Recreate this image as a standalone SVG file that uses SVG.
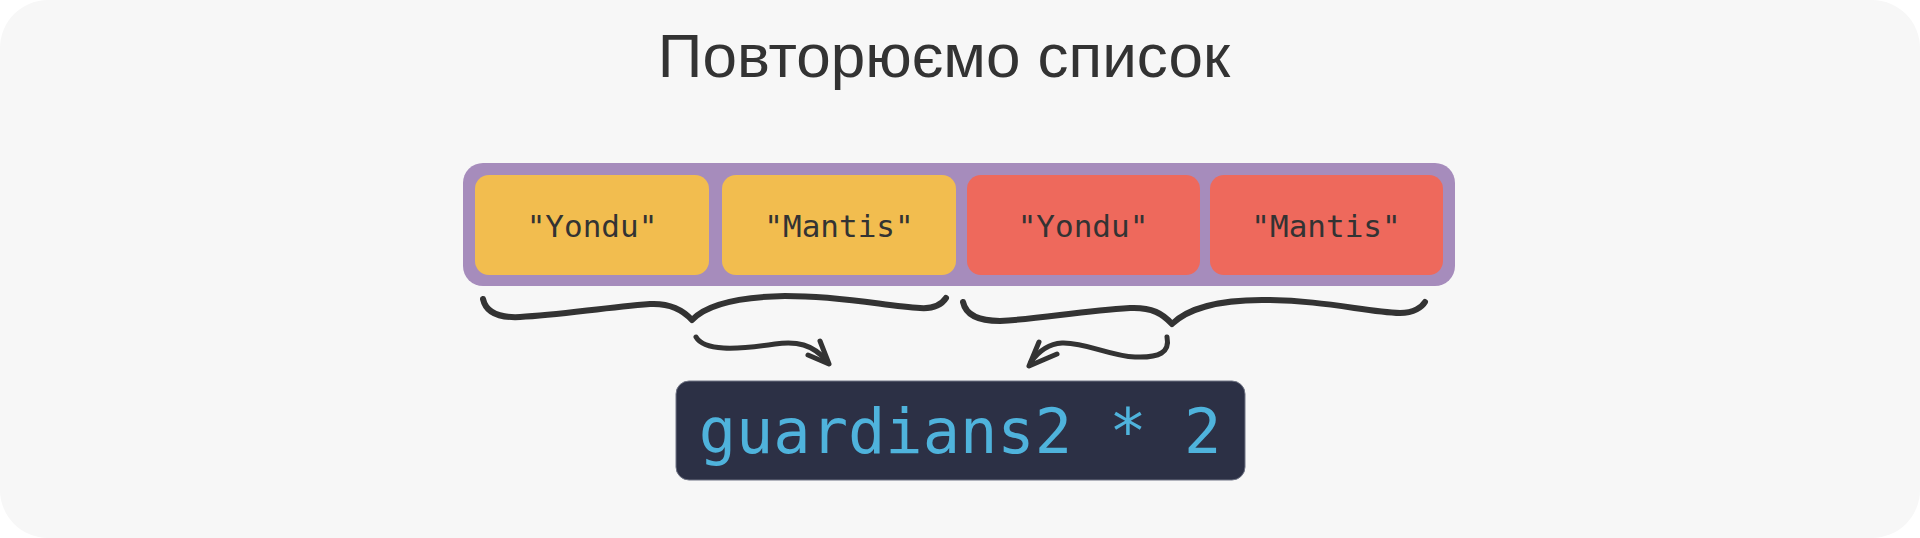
<svg xmlns="http://www.w3.org/2000/svg" width="1920" height="538" viewBox="0 0 1920 538">
  <style>
    .title { font-family: "Liberation Sans", Arial, sans-serif; font-size: 62px; fill: #333333; }
    .item { font-family: "DejaVu Sans Mono", "Liberation Mono", monospace; font-size: 31px; fill: #333333; }
    .code { font-family: "DejaVu Sans Mono", "Liberation Mono", monospace; font-size: 62px; fill: #4fb3dc; }
    .yellow { fill: #f2bd4f; }
    .red { fill: #ee695c; }
    .brace { fill: none; stroke: #333333; stroke-width: 6; stroke-linecap: round; stroke-linejoin: round; }
    .arrow { fill: none; stroke: #333333; stroke-width: 5; stroke-linecap: round; stroke-linejoin: round; }
  </style>
  <rect x="0" y="0" width="1920" height="538" rx="48" fill="#f7f7f7"/>

  <g id="title">
    <text class="title" x="944" y="77" text-anchor="middle">Повторюємо список</text>
  </g>

  <g id="list">
    <rect x="463" y="163" width="992" height="123" rx="20" fill="#a68cbc"/>
  </g>

  <g id="item1">
    <rect class="yellow" x="475" y="175" width="234" height="100" rx="14"/>
    <text class="item" x="592" y="237" text-anchor="middle">"Yondu"</text>
  </g>
  <g id="item2">
    <rect class="yellow" x="722" y="175" width="234" height="100" rx="14"/>
    <text class="item" x="839" y="237" text-anchor="middle">"Mantis"</text>
  </g>
  <g id="item3">
    <rect class="red" x="967" y="175" width="233" height="100" rx="14"/>
    <text class="item" x="1083" y="237" text-anchor="middle">"Yondu"</text>
  </g>
  <g id="item4">
    <rect class="red" x="1210" y="175" width="233" height="100" rx="14"/>
    <text class="item" x="1326" y="237" text-anchor="middle">"Mantis"</text>
  </g>

  <g id="code">
    <rect x="676" y="381" width="569" height="99" rx="13" fill="#2c3045" stroke="#6f7384" stroke-width="1"/>
    <text class="code" x="960" y="453" text-anchor="middle">guardians2 * 2</text>
  </g>

  <g id="connectors">
    <path class="brace" d="M483,299 C486,313 500,318 520,317 C560,315 600,308 650,304 C670,303 683,310 692,320 C705,306 735,297 785,296 C845,296 885,306 920,308 C934,309 942,304 946,298"/>
    <path class="arrow" d="M696,337 C704,351 735,350 775,344 C797,341 812,344 827,361"/>
    <path class="arrow" d="M820,341 L829,364 L808,355"/>

    <path class="brace" d="M963,302 C966,316 980,321 1000,321 C1040,319 1080,311 1130,308 C1152,307 1163,314 1172,324 C1186,310 1215,300 1262,300 C1325,300 1365,312 1400,313 C1414,313 1422,307 1425,302"/>
    <path class="arrow" d="M1167,337 C1170,352 1160,358 1135,357 C1110,356 1085,342 1062,343 C1048,344 1038,352 1031,362"/>
    <path class="arrow" d="M1039,342 L1029,366 L1057,354"/>
  </g>
</svg>
